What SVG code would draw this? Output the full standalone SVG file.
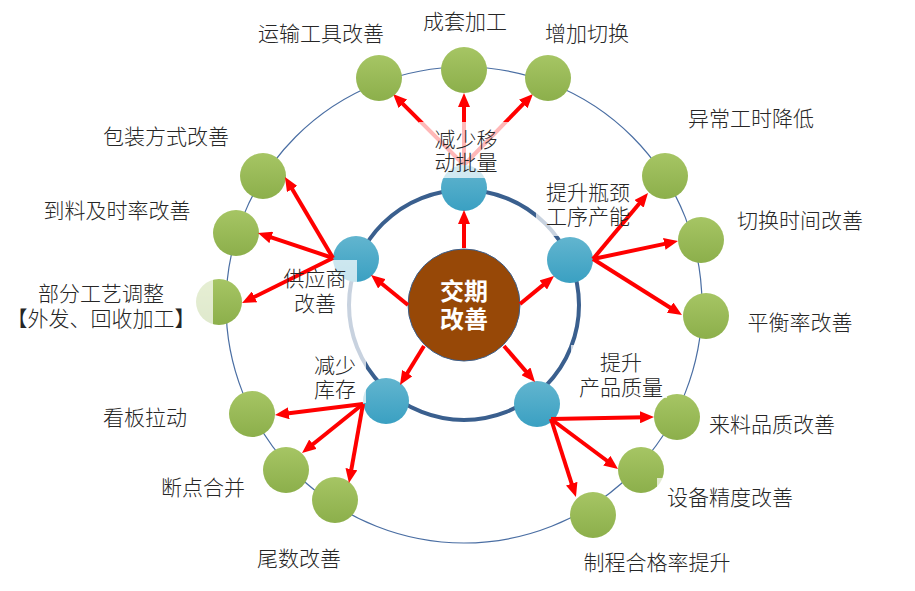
<svg xmlns="http://www.w3.org/2000/svg" width="915" height="591" viewBox="0 0 915 591">
<style>
.lbl{font-family:"Noto Sans CJK SC","Noto Sans",sans-serif;font-size:21px;font-weight:300;fill:#262626;text-anchor:middle}
.core{font-family:"Noto Sans CJK SC","Noto Sans",sans-serif;font-size:24px;font-weight:700;fill:#ffffff;text-anchor:middle}
.blue{fill:url(#gBlue)}
.green{fill:url(#gGreen)}
.arr{stroke:#ff0000;stroke-width:4;fill:none;marker-end:url(#ah)}
.bg{fill:#ffffff;fill-opacity:0.72}
</style>
<defs>
<linearGradient id="gBlue" x1="0" y1="0" x2="0" y2="1">
<stop offset="0" stop-color="#62b5cf"/>
<stop offset="1" stop-color="#3aa0c2"/>
</linearGradient>
<linearGradient id="gGreen" x1="0" y1="0" x2="0" y2="1">
<stop offset="0" stop-color="#a6c564"/>
<stop offset="1" stop-color="#8caf4b"/>
</linearGradient>
<marker id="ah" markerUnits="userSpaceOnUse" markerWidth="14" markerHeight="12" viewBox="0 0 14 12" refX="4" refY="6" orient="auto">
<path d="M0,0 L14,6 L0,12 z" fill="#ff0000"/>
</marker>
</defs>
<rect width="915" height="591" fill="#ffffff"/>

<g id="rings">
<circle cx="464" cy="305" r="238" fill="none" stroke="#4a6ea3" stroke-width="1.2"/>
<circle cx="464" cy="305" r="115" fill="none" stroke="#3a5f8e" stroke-width="4"/>
</g>

<g id="connectors-top">
<line class="arr" x1="464" y1="165" x2="400.1" y2="101.1"/>
<line class="arr" x1="464" y1="165" x2="464" y2="103"/>
<line class="arr" x1="464" y1="165" x2="526" y2="101.2"/>
</g>

<g id="core"><circle cx="464" cy="305" r="56" fill="#974807" stroke="#3a5f8e" stroke-width="1"/>
<text class="core" x="464" y="300">交期</text>
<text class="core" x="464" y="328">改善</text></g>

<g id="n-move"><circle class="blue" cx="464" cy="188" r="23"/></g>
<g id="n-bottleneck"><circle class="blue" cx="570" cy="260" r="23"/></g>
<g id="n-supplier"><circle class="blue" cx="356" cy="259" r="23"/></g>
<g id="n-stock"><circle class="blue" cx="386" cy="401" r="23"/></g>
<g id="n-quality"><circle class="blue" cx="537" cy="404" r="23"/></g>

<g id="g-transport"><circle class="green" cx="379" cy="78" r="23"/></g>
<g id="g-kit"><circle class="green" cx="464" cy="70" r="23"/></g>
<g id="g-switchadd"><circle class="green" cx="548" cy="78" r="23"/></g>
<g id="g-abnormal"><circle class="green" cx="665" cy="176" r="23"/></g>
<g id="g-changeover"><circle class="green" cx="701" cy="240" r="23"/></g>
<g id="g-balance"><circle class="green" cx="706" cy="316" r="23"/></g>
<g id="g-incoming"><circle class="green" cx="677" cy="417" r="23"/></g>
<g id="g-equip"><circle class="green" cx="641" cy="470" r="23"/></g>
<g id="g-yield"><circle class="green" cx="593" cy="515" r="23"/></g>
<g id="g-tail"><circle class="green" cx="335" cy="500" r="23"/></g>
<g id="g-merge"><circle class="green" cx="286" cy="470" r="23"/></g>
<g id="g-kanban"><circle class="green" cx="252" cy="414" r="23"/></g>
<g id="g-process"><circle class="green" cx="219" cy="302" r="23"/></g>
<g id="g-material"><circle class="green" cx="236" cy="233" r="23"/></g>
<g id="g-packing"><circle class="green" cx="263" cy="176" r="23"/></g>

<g id="label-backgrounds">
<rect class="bg" x="419" y="122" width="92" height="56"/>
<rect class="bg" x="282" y="260" width="75" height="76"/>
<rect class="bg" x="308" y="336" width="58" height="67"/>
<rect class="bg" x="536" y="180" width="100" height="56"/>
<rect class="bg" x="571" y="345" width="96" height="53"/>
<rect class="bg" x="10" y="279" width="203" height="53"/>
<rect class="bg" x="657" y="478" width="140" height="34"/>
</g>

<g id="connectors">
<line class="arr" x1="464" y1="248" x2="464" y2="220"/>
<line class="arr" x1="520" y1="304" x2="546.3" y2="282.4"/>
<line class="arr" x1="408" y1="305" x2="378.8" y2="281.3"/>
<line class="arr" x1="424" y1="346" x2="405.2" y2="376.5"/>
<line class="arr" x1="504" y1="346" x2="528.5" y2="374.4"/>
<line class="arr" x1="593" y1="259" x2="641.6" y2="200.7"/>
<line class="arr" x1="593" y1="259" x2="668.2" y2="243.1"/>
<line class="arr" x1="593" y1="259" x2="673.5" y2="309.7"/>
<line class="arr" x1="333" y1="258" x2="290.1" y2="185.6"/>
<line class="arr" x1="333" y1="258" x2="267.5" y2="236.2"/>
<line class="arr" x1="333" y1="258" x2="251" y2="298.6"/>
<line class="arr" x1="363" y1="404" x2="284.9" y2="413.8"/>
<line class="arr" x1="363" y1="404" x2="309.8" y2="446.7"/>
<line class="arr" x1="363" y1="404" x2="350.7" y2="473.1"/>
<line class="arr" x1="551" y1="419" x2="644" y2="417.2"/>
<line class="arr" x1="551" y1="419" x2="610" y2="463"/>
<line class="arr" x1="551" y1="419" x2="572.9" y2="487.5"/>
</g>

<g id="labels">
<text class="lbl" x="321" y="41">运输工具改善</text>
<text class="lbl" x="465" y="29">成套加工</text>
<text class="lbl" x="587" y="41">增加切换</text>
<text class="lbl" x="751" y="126">异常工时降低</text>
<text class="lbl" x="800" y="228">切换时间改善</text>
<text class="lbl" x="800" y="330">平衡率改善</text>
<text class="lbl" x="772" y="432">来料品质改善</text>
<text class="lbl" x="730" y="505">设备精度改善</text>
<text class="lbl" x="657" y="570">制程合格率提升</text>
<text class="lbl" x="299" y="566">尾数改善</text>
<text class="lbl" x="203" y="495">断点合并</text>
<text class="lbl" x="145" y="425">看板拉动</text>
<text class="lbl" x="101" y="301">部分工艺调整</text>
<text class="lbl" x="101" y="326">【外发、回收加工】</text>
<text class="lbl" x="117" y="218">到料及时率改善</text>
<text class="lbl" x="166" y="144">包装方式改善</text>
<text class="lbl" x="466" y="147">减少移</text>
<text class="lbl" x="466" y="170">动批量</text>
<text class="lbl" x="588" y="200">提升瓶颈</text>
<text class="lbl" x="588" y="224">工序产能</text>
<text class="lbl" x="315" y="286">供应商</text>
<text class="lbl" x="315" y="311">改善</text>
<text class="lbl" x="335" y="373">减少</text>
<text class="lbl" x="335" y="397">库存</text>
<text class="lbl" x="621" y="370">提升</text>
<text class="lbl" x="621" y="395">产品质量</text>
</g>
</svg>
